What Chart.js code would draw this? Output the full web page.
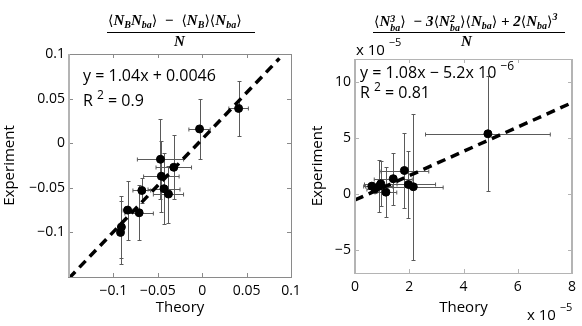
<!DOCTYPE html>
<html>
<head>
<meta charset="utf-8">
<script src="https://cdn.jsdelivr.net/npm/chart.js"></script>
<style>
body { margin: 0; width: 582px; height: 326px; position: relative; background: #fff; overflow: hidden; font-family: "Open Sans", sans-serif; }
canvas { position: absolute; top: 0; }
.t { position: absolute; white-space: nowrap; line-height: 1; font-size: 16px; color: #000; }
.sup { position: relative; font-size: 12px; }
.f { position: absolute; white-space: nowrap; line-height: 1; font-family: "Liberation Serif", "DejaVu Serif", serif; font-style: italic; font-weight: bold; font-size: 15px; }
.f sub { font-size: 10px; vertical-align: -3px; }
.f b { font-family: "DejaVu Sans", sans-serif; font-style: normal; font-weight: normal; font-size: 14px; }
.ss { display: inline-block; vertical-align: -5px; font-size: 10px; line-height: 9px; }
.ss span { display: block; }
.bar { position: absolute; height: 1px; background: #000; }
</style>
</head>
<body>
<canvas id="left" width="310" height="326" style="left:0"></canvas>
<canvas id="right" width="291" height="326" style="left:291px"></canvas>

<!-- panel titles -->
<div class="f" style="left:108px;top:13px"><b>⟨</b>N<sub>B</sub>N<sub>ba</sub><b>⟩</b> &nbsp;− &nbsp;<b>⟨</b>N<sub>B</sub><b>⟩⟨</b>N<sub>ba</sub><b>⟩</b></div>
<div class="bar" style="left:107px;top:32px;width:148px"></div>
<div class="f" style="left:174px;top:34px">N</div>

<div class="f" style="left:374px;top:12px"><b>⟨</b>N<span class="ss"><span>3</span><span>ba</span></span><b>⟩</b> &nbsp;− 3<b>⟨</b>N<span class="ss"><span>2</span><span>ba</span></span><b>⟩⟨</b>N<sub>ba</sub><b>⟩</b> + 2<b>⟨</b>N<sub>ba</sub><b>⟩</b><sup style="font-size:10px">3</sup></div>
<div class="bar" style="left:373px;top:32px;width:192px"></div>
<div class="f" style="left:461px;top:34px">N</div>

<!-- fit annotations -->
<div class="t" style="left:83px;top:67px">y = 1.04x + 0.0046</div>
<div class="t" style="left:83px;top:92px">R <span class="sup" style="top:-7px">2</span> = 0.9</div>
<div class="t" style="left:360px;top:64px">y = 1.08x − 5.2x 10 <span class="sup" style="top:-8px">−6</span></div>
<div class="t" style="left:360px;top:84px">R <span class="sup" style="top:-7px">2</span> = 0.81</div>

<!-- exponent labels -->
<div class="t" style="left:356px;top:42px;font-size:15px">x 10 <span class="sup" style="top:-9px;font-size:11px">−5</span></div>
<div class="t" style="left:527px;top:307px;font-size:15px">x 10 <span class="sup" style="top:-9px;font-size:11px">−5</span></div>

<script>
// left panel: <N_B N_ba> - <N_B><N_ba>, over N
const theoryL = [-0.003, 0.041, -0.047, -0.032, -0.046, -0.068, -0.043, -0.038, -0.084, -0.071, -0.091, -0.092];
const exptL   = [0.016, 0.039, -0.018, -0.027, -0.037, -0.053, -0.051, -0.057, -0.075, -0.078, -0.094, -0.100];
const xErrL   = [0.012, 0.011, 0.026, 0.020, 0.020, 0.010, 0.018, 0.017, 0.005, 0.016, 0.003, 0.003];
const yErrL   = [0.034, 0.031, 0.045, 0.036, 0.040, 0.014, 0.040, 0.032, 0.033, 0.031, 0.035, 0.035];
const fitL    = [1.04, 0.0046];   // slope, intercept
const fitRangeL = [-0.15, 0.087];
const ticksL  = [-0.1, -0.05, 0, 0.05, 0.1];

// right panel: third moment combination, values in units of 1e-5
const theoryR = [0.62, 0.74, 0.89, 0.95, 1.14, 1.41, 1.82, 1.97, 2.15, 4.90];
const exptR   = [0.71, 0.48, 0.71, 0.92, 0.18, 1.37, 2.10, 0.86, 0.66, 5.36];
const xErrR   = [0.3, 0.3, 0.5, 0.6, 0.4, 0.7, 0.9, 1.0, 1.1, 2.3];
const yErrR   = [0.4, 0.4, 2.3, 2.0, 2.2, 2.3, 3.3, 3.0, 6.5, 5.1];
const fitR    = [1.08, -0.52];
const fitRangeR = [0, 8];
const xTicksR = [0, 2, 4, 6, 8];
const yTicksR = [-5, 0, 5, 10];

fmt = (v) => (v === 0 ? '0' : String(+v.toFixed(2)).replace('-', '\u2212'));

// error bars, drawn under the markers
const errbars = {
    id: 'errbars',
    beforeDatasetsDraw(chart, args, o) {
        var xs = chart.scales.x, ys = chart.scales.y, ctx = chart.ctx;
        ctx.save();
        ctx.strokeStyle = o.color;
        ctx.lineWidth = 1;
        for (var i = 0; i < o.x.length; i++) {
            var px = Math.round(xs.getPixelForValue(o.x[i])) + 0.5;
            var py = Math.round(ys.getPixelForValue(o.y[i])) + 0.5;
            var x0 = xs.getPixelForValue(o.x[i] - o.xErr[i]), x1 = xs.getPixelForValue(o.x[i] + o.xErr[i]);
            var y0 = Math.round(ys.getPixelForValue(o.y[i] - o.yErr[i])) + 0.5;
            var y1 = Math.round(ys.getPixelForValue(o.y[i] + o.yErr[i])) + 0.5;
            ctx.beginPath();
            ctx.moveTo(x0, py); ctx.lineTo(x1, py);
            ctx.moveTo(px, y0); ctx.lineTo(px, y1);
            ctx.moveTo(x0, py - 2); ctx.lineTo(x0, py + 2);
            ctx.moveTo(x1, py - 2); ctx.lineTo(x1, py + 2);
            ctx.moveTo(px - 2, y0); ctx.lineTo(px + 2, y0);
            ctx.moveTo(px - 2, y1); ctx.lineTo(px + 2, y1);
            ctx.stroke();
        }
        ctx.restore();
    }
};

// box around the axes with inward tick marks (matlab style)
const frame = {
    id: 'frame',
    afterDraw(chart, args, o) {
        var a = chart.chartArea, ctx = chart.ctx;
        var xs = chart.scales.x, ys = chart.scales.y;
        ctx.save();
        ctx.strokeStyle = o.color;
        ctx.lineWidth = 1;
        ctx.strokeRect(a.left - 0.5, a.top + 0.5, a.right - a.left + 1, a.bottom - a.top);
        ctx.beginPath();
        xs.ticks.forEach(t => {
            var x = Math.round(xs.getPixelForValue(t.value)) + 0.5;
            ctx.moveTo(x, a.bottom); ctx.lineTo(x, a.bottom - 4);
            ctx.moveTo(x, a.top); ctx.lineTo(x, a.top + 4);
        });
        ys.ticks.forEach(t => {
            var y = Math.round(ys.getPixelForValue(t.value)) + 0.5;
            ctx.moveTo(a.left, y); ctx.lineTo(a.left + 4, y);
            ctx.moveTo(a.right, y); ctx.lineTo(a.right - 4, y);
        });
        ctx.stroke();
        if (o.sideWidth) {
            ctx.strokeStyle = o.sideColor;
            ctx.lineWidth = o.sideWidth;
            ctx.beginPath();
            ctx.moveTo(a.left, a.top); ctx.lineTo(a.left, a.bottom);
            if (o.bothSides) { ctx.moveTo(a.right, a.top); ctx.lineTo(a.right, a.bottom); }
            ctx.stroke();
        }
        ctx.restore();
    }
};

function makePanel(id, p) {
    var points = p.x.map((v, i) => ({x: v, y: p.y[i]}));
    var fitLine = p.fitRange.map(v => ({x: v, y: p.fit[0] * v + p.fit[1]}));
    var ctx = document.getElementById(id).getContext('2d');
    return new Chart(ctx, {
        type: 'scatter',
        data: {
            datasets: [
                { data: points, backgroundColor: '#000', borderColor: '#000', pointRadius: 4, pointHoverRadius: 4 },
                { type: 'line', data: fitLine, borderColor: '#000', borderWidth: 3.5, borderDash: [9, 6], pointRadius: 0, fill: false }
            ]
        },
        options: {
            responsive: false,
            animation: false,
            events: [],
            layout: { padding: { top: p.top, right: p.right, left: 0, bottom: 0 } },
            plugins: {
                legend: { display: false },
                tooltip: { enabled: false },
                errbars: { x: p.x, y: p.y, xErr: p.xErr, yErr: p.yErr, color: '#5a5a5a' },
                frame: p.frame
            },
            scales: {
                x: {
                    type: 'linear', min: p.xMin, max: p.xMax,
                    grid: { display: false, drawTicks: false },
                    border: { display: false },
                    afterBuildTicks: s => { s.ticks = p.xTicks.map(v => ({value: v})); },
                    afterFit: s => { s.height = p.xHeight; s.paddingLeft = 0; s.paddingRight = 0; },
                    ticks: { color: '#000', padding: 6, autoSkip: false, maxRotation: 0, font: { family: 'Open Sans', size: 14 }, callback: v => fmt(v) },
                    title: { display: true, text: 'Theory', color: '#000', padding: { top: 0, bottom: 9 }, font: { family: 'Open Sans', size: 15 } }
                },
                y: {
                    type: 'linear', min: p.yMin, max: p.yMax,
                    grid: { display: false, drawTicks: false },
                    border: { display: false },
                    afterBuildTicks: s => { s.ticks = p.yTicks.map(v => ({value: v})); },
                    afterFit: s => { s.width = p.yWidth; s.paddingTop = 0; s.paddingBottom = 0; },
                    ticks: { color: '#000', padding: 4, autoSkip: false, font: { family: 'Open Sans', size: 14 }, callback: v => fmt(v) },
                    title: { display: true, text: 'Experiment', color: '#000', padding: { top: p.yTitlePad, bottom: 0 }, font: { family: 'Open Sans', size: 15 } }
                }
            }
        },
        plugins: [errbars, frame]
    });
}

document.addEventListener('DOMContentLoaded', function() {
    makePanel('left', {
        x: theoryL, y: exptL, xErr: xErrL, yErr: yErrL, fit: fitL, fitRange: fitRangeL,
        xMin: -0.15, xMax: 0.1, yMin: -0.15, yMax: 0.1, xTicks: ticksL, yTicks: ticksL,
        top: 54, right: 19, xHeight: 49, yWidth: 69, yTitlePad: 1,
        frame: { color: '#8a8a8a', sideWidth: 2, sideColor: '#b4b4b4', bothSides: false }
    });
    makePanel('right', {
        x: theoryR, y: exptR, xErr: xErrR, yErr: yErrR, fit: fitR, fitRange: fitRangeR,
        xMin: 0, xMax: 8, yMin: -7, yMax: 12, xTicks: xTicksR, yTicks: yTicksR,
        top: 59, right: 10, xHeight: 53, yWidth: 64, yTitlePad: 18,
        frame: { color: '#b4b4b4', sideWidth: 2, sideColor: '#b4b4b4', bothSides: true }
    });
});
</script>
</body>
</html>
